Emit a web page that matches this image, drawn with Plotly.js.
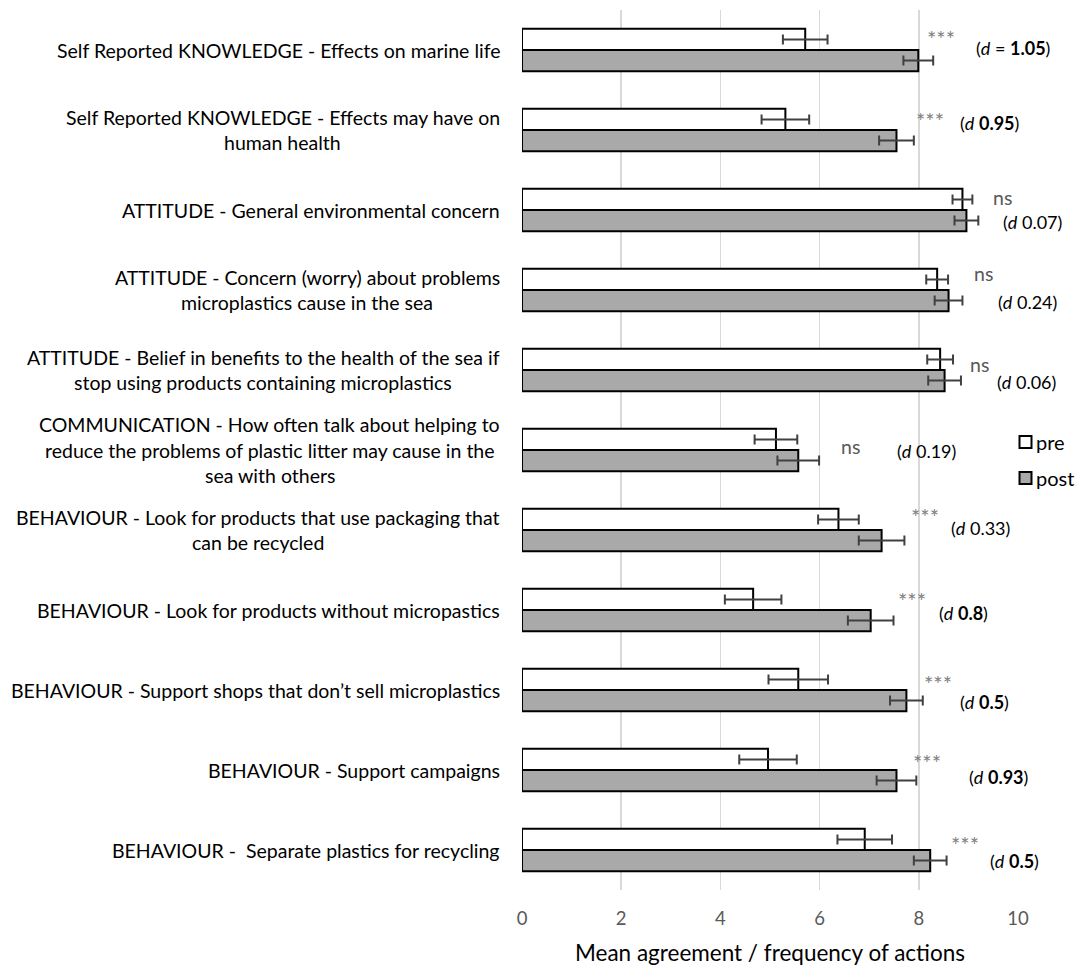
<!DOCTYPE html>
<html>
<head>
<meta charset="utf-8">
<script src="https://cdn.plot.ly/plotly-3.0.1.min.js"></script>
<style>
  html, body { margin: 0; padding: 0; background: #ffffff; }
  #chart { width: 1084px; height: 968px; }
</style>
</head>
<body>
<div id="chart"></div>
<script>
// ---------------- DATA ----------------
const categories = [
  "Self Reported KNOWLEDGE - Effects on marine life",
  "Self Reported KNOWLEDGE - Effects may have on\nhuman health",
  "ATTITUDE - General environmental concern",
  "ATTITUDE - Concern (worry) about problems\nmicroplastics cause in the sea",
  "ATTITUDE - Belief in benefits to the health of the sea if\nstop using products containing microplastics",
  "COMMUNICATION - How often talk about helping to\nreduce the problems of plastic litter may cause in the\nsea with others",
  "BEHAVIOUR - Look for products that use packaging that\ncan be recycled",
  "BEHAVIOUR - Look for products without micropastics",
  "BEHAVIOUR - Support shops that don\u2019t sell microplastics",
  "BEHAVIOUR - Support campaigns",
  "BEHAVIOUR -  Separate plastics for recycling"
];
const preMean  = [5.71, 5.31, 8.88, 8.37, 8.43, 5.12, 6.38, 4.66, 5.57, 4.96, 6.91];
const preErr   = [0.45, 0.48, 0.20, 0.22, 0.26, 0.43, 0.41, 0.57, 0.60, 0.58, 0.55];
const postMean = [7.99, 7.55, 8.96, 8.60, 8.52, 5.57, 7.25, 7.03, 7.75, 7.55, 8.23];
const postErr  = [0.30, 0.35, 0.24, 0.28, 0.33, 0.42, 0.46, 0.46, 0.33, 0.40, 0.33];
const sigLabels = ["***", "***", "ns", "ns", "ns", "ns", "***", "***", "***", "***", "***"];
const dPrefix  = ["d = ", "d ", "d ", "d ", "d ", "d ", "d ", "d ", "d ", "d ", "d "];
const dValues  = ["1.05", "0.95", "0.07", "0.24", "0.06", "0.19", "0.33", "0.8", "0.5", "0.93", "0.5"];
const dBold    = [true, true, false, false, false, false, false, true, true, true, true];
const xTicks   = [0, 2, 4, 6, 8, 10];
const seriesNames = ["pre", "post"];

// ---------------- PLACEMENT / STYLE (layout only) ----------------
// [x (axis units) of label centre, vertical pixel shift]
const sigPlace = [[8.45,12],[8.23,10],[9.68,13],[9.30,17],[9.22,6],[6.62,4],[8.13,14],[7.87,10],[8.39,7],[8.17,8],[8.93,6]];
const dPlace   = [[9.90,2],[9.42,7],[10.29,-12],[10.19,-12],[10.17,-12],[8.15,-1],[9.24,2],[8.91,-3],[9.32,-12],[9.60,-7],[9.92,-11]];
const seriesFill = ["#ffffff", "#a9a9a9"];

const W = 1084, H = 968;
const M = { l: 522, r: 66, t: 10, b: 78 };
const FONT = "Lato, 'Open Sans', sans-serif";
const labelSize = 19.5;
const lineH = 25.5;
const X_MAX = 10;

const yKeys = categories.map(c => c.replace(/\n/g, " "));
const means = [preMean, postMean];
const errs = [preErr, postErr];

const traces = seriesNames.map((nm, k) => ({
  type: "bar", orientation: "h", name: nm,
  y: yKeys, x: means[k],
  marker: { color: seriesFill[k], line: { color: "#000000", width: 2 } },
  error_x: { type: "data", array: errs[k], visible: true, color: "#404040", thickness: 2, width: 5 },
  hoverinfo: "x", showlegend: false
}));

// measure text for centred multi-line category labels
const cv = document.createElement("canvas");
const ctx = cv.getContext("2d");
ctx.font = labelSize + "px Lato";

const annotations = [];
categories.forEach((cat, i) => {
  const lines = cat.split("\n");
  const widths = lines.map(l => ctx.measureText(l).width);
  const maxW = Math.max(...widths);
  const n = lines.length;
  lines.forEach((l, j) => {
    annotations.push({
      xref: "paper", x: 0, xanchor: "right",
      yref: "y", y: yKeys[i], yanchor: "middle",
      yshift: ((n - 1) / 2 - j) * lineH,
      xshift: -20 - (maxW - widths[j]) / 2,
      text: l, showarrow: false,
      font: { family: FONT, size: labelSize, color: "#000000" }
    });
  });
  const isStar = sigLabels[i] === "***";
  annotations.push({
    xref: "paper", x: sigPlace[i][0] / X_MAX, yref: "y", y: yKeys[i], yshift: sigPlace[i][1],
    xanchor: "center", yanchor: "middle", showarrow: false,
    text: sigLabels[i],
    font: { family: FONT, size: isStar ? 22 : 19.5, color: isStar ? "#808080" : "#595959" }
  });
  const pre = dPrefix[i].replace("d", "<i>d</i>");
  const val = dBold[i] ? "<b>" + dValues[i] + "</b>" : dValues[i];
  annotations.push({
    xref: "paper", x: dPlace[i][0] / X_MAX, yref: "y", y: yKeys[i], yshift: dPlace[i][1],
    xanchor: "center", yanchor: "middle", showarrow: false,
    text: "(" + pre + val + ")",
    font: { family: FONT, size: 18, color: "#000000" }
  });
});

// legend (key) drawn in paper space
const pw = W - M.l - M.r, ph = H - M.t - M.b;
const px2x = px => (px - M.l) / pw;
const px2y = py => 1 - (py - M.t) / ph;
const legendY = [442, 478];
const shapes = [];
seriesNames.forEach((nm, k) => {
  const cy = legendY[k];
  shapes.push({
    type: "rect", xref: "paper", yref: "paper",
    x0: px2x(1019.5), x1: px2x(1031.5), y0: px2y(cy + 6), y1: px2y(cy - 6),
    fillcolor: seriesFill[k], line: { color: "#000000", width: 2 }
  });
  annotations.push({
    xref: "paper", yref: "paper", x: px2x(1034), y: px2y(cy),
    xanchor: "left", yanchor: "middle", showarrow: false, text: nm,
    font: { family: FONT, size: 20, color: "#000000" }
  });
});

const layout = {
  width: W, height: H,
  margin: { l: M.l, r: M.r, t: M.t, b: M.b, pad: 0 },
  paper_bgcolor: "#ffffff", plot_bgcolor: "#ffffff",
  barmode: "group", bargap: 0.47, bargroupgap: 0,
  font: { family: FONT, color: "#000000" },
  xaxis: {
    range: [0, X_MAX], tickvals: xTicks, ticktext: xTicks.map(String),
    showgrid: true, gridcolor: "#d9d9d9", gridwidth: 1.5,
    zeroline: false, showline: false, ticks: "",
    ticklabelstandoff: 15, automargin: false,
    tickfont: { family: FONT, size: 18.5, color: "#595959" },
    title: { text: "Mean agreement / frequency of actions", standoff: 17,
             font: { family: FONT, size: 22.5, color: "#000000" } },
    fixedrange: true
  },
  yaxis: {
    type: "category", categoryorder: "array", categoryarray: yKeys,
    autorange: "reversed", showticklabels: false, ticks: "", automargin: false,
    showgrid: false, zeroline: false, showline: false, fixedrange: true
  },
  showlegend: false,
  shapes: shapes,
  annotations: annotations
};

Plotly.newPlot("chart", traces, layout, { displayModeBar: false, staticPlot: true });
</script>
</body>
</html>
